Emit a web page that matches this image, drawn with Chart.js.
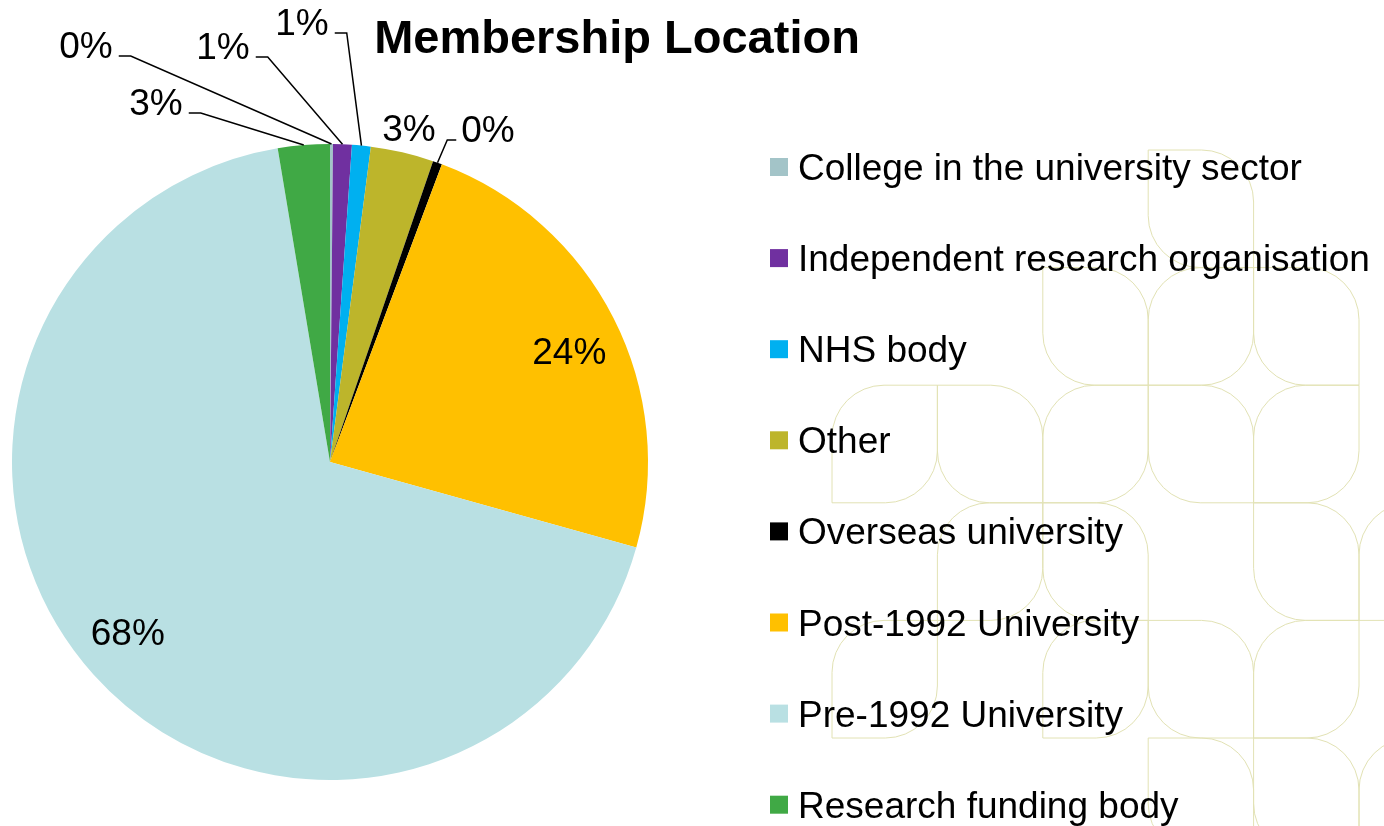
<!DOCTYPE html>
<html>
<head>
<meta charset="utf-8">
<script src="https://cdn.jsdelivr.net/npm/chart.js@4/dist/chart.umd.min.js"></script>
<style>
  html, body { margin: 0; padding: 0; background: #fff; }
  #pie { display: block; }
</style>
</head>
<body>
<canvas id="pie" width="1384" height="826"></canvas>
<script>
// chart data
const categories = [
    'College in the university sector',
    'Independent research organisation',
    'NHS body',
    'Other',
    'Overseas university',
    'Post-1992 University',
    'Pre-1992 University',
    'Research funding body'
];
const shares = [0.15, 0.95, 0.95, 3.2, 0.47, 23.6, 68.0, 2.63];
const colours = ['#a3c4c8', '#7030a0', '#00b0f0', '#bdb52b', '#000000', '#ffc000', '#b9e0e3', '#40a945'];

// where the outside labels sit (null = inside the slice), side = where the leader leaves the text
const labelSpots = [
    { x: 86, y: 45, side: 'right' },
    { x: 223, y: 46, side: 'right' },
    { x: 302, y: 22, side: 'right' },
    { x: 409, y: 128, side: null },
    { x: 488, y: 129, side: 'left' },
    null,
    null,
    { x: 156, y: 102, side: 'right' }
];

const FONT = '"Liberation Sans", Arial, sans-serif';

// faint decorative tiles on the right: [col, row, rounded corners]
const tiles = [
    [3, 0, 'TR BL'], [2, 1, 'TR BL'], [3, 1, 'TL BR'], [4, 1, 'TR BL'],
    [0, 2, 'TL BR'], [1, 2, 'TR BL'], [2, 2, 'TL BR'], [3, 2, 'TR BL'], [4, 2, 'TL BR'],
    [1, 3, 'TL BR'], [2, 3, 'TR BL'], [4, 3, 'TR BL'], [5, 3, 'TL'],
    [0, 4, 'TL BR'], [2, 4, 'TL BR'], [3, 4, 'TR BL'], [4, 4, 'TL BR'],
    [3, 5, 'TR BL'], [4, 5, 'TR BL'], [5, 5, 'TL']
];

function tilePath(ctx, x0, y0, w, h, corners, r) {
    const x1 = x0 + w, y1 = y0 + h;
    const tl = corners.includes('TL') ? r : 0;
    const tr = corners.includes('TR') ? r : 0;
    const br = corners.includes('BR') ? r : 0;
    const bl = corners.includes('BL') ? r : 0;
    ctx.beginPath();
    ctx.moveTo(x0 + tl, y0);
    ctx.lineTo(x1 - tr, y0);
    if (tr) ctx.arcTo(x1, y0, x1, y0 + tr, tr);
    ctx.lineTo(x1, y1 - br);
    if (br) ctx.arcTo(x1, y1, x1 - br, y1, br);
    ctx.lineTo(x0 + bl, y1);
    if (bl) ctx.arcTo(x0, y1, x0, y1 - bl, bl);
    ctx.lineTo(x0, y0 + tl);
    if (tl) ctx.arcTo(x0, y0, x0 + tl, y0, tl);
    ctx.closePath();
    ctx.stroke();
}

const backdrop = {
    id: 'backdrop',
    beforeDraw(chart) {
        const ctx = chart.ctx;
        ctx.save();
        ctx.fillStyle = '#ffffff';
        ctx.fillRect(0, 0, chart.width, chart.height);
        ctx.strokeStyle = '#e2e2b4';
        ctx.lineWidth = 1;
        tiles.forEach(t => {
            tilePath(ctx, 832 + t[0] * 105.4, 150 + t[1] * 117.6, 105.4, 117.6, t[2], 52);
        });
        ctx.restore();
    }
};

const sliceLabels = {
    id: 'sliceLabels',
    afterDatasetsDraw(chart) {
        const ctx = chart.ctx;
        const meta = chart.getDatasetMeta(0);
        const total = shares.reduce((a, b) => a + b, 0);
        ctx.save();
        ctx.font = '37px ' + FONT;
        ctx.fillStyle = '#000';
        ctx.strokeStyle = '#000';
        ctx.lineWidth = 1.5;
        ctx.textAlign = 'center';
        ctx.textBaseline = 'alphabetic';
        meta.data.forEach((arc, i) => {
            const p = arc.getProps(['x', 'y', 'startAngle', 'endAngle', 'outerRadius'], true);
            const mid = (p.startAngle + p.endAngle) / 2;
            const txt = Math.round(shares[i] / total * 100) + '%';
            const spot = labelSpots[i];
            if (!spot) {
                // inside labels sit a bit past the middle angle, like Excel puts them
                const r = p.outerRadius * 0.83;
                const a = mid + 0.034;
                ctx.fillText(txt, p.x + r * Math.cos(a), p.y + r * Math.sin(a) + 13);
                return;
            }
            ctx.fillText(txt, spot.x, spot.y + 13);
            if (!spot.side) return;
            const half = ctx.measureText(txt).width / 2;
            const ax = p.x + p.outerRadius * Math.cos(mid);
            const ay = p.y + p.outerRadius * Math.sin(mid);
            const ly = spot.y + 11;
            let sx, ex;
            if (spot.side === 'right') {
                sx = spot.x + half + 6;
                ex = sx + 12;
            } else {
                sx = spot.x - half - 5;
                ex = sx - 9;
            }
            ctx.beginPath();
            ctx.moveTo(sx, ly);
            ctx.lineTo(ex, ly);
            ctx.lineTo(ax, ay);
            ctx.stroke();
        });
        ctx.restore();
    }
};

const titleAndLegend = {
    id: 'titleAndLegend',
    afterDraw(chart) {
        const ctx = chart.ctx;
        ctx.save();
        ctx.fillStyle = '#000';
        ctx.font = 'bold 47px ' + FONT;
        ctx.textAlign = 'center';
        ctx.textBaseline = 'alphabetic';
        ctx.fillText('Membership Location', 617, 53);

        ctx.font = '37px ' + FONT;
        ctx.textAlign = 'left';
        categories.forEach((name, i) => {
            const cy = 167 + i * 91.1;
            ctx.fillStyle = colours[i];
            ctx.fillRect(770, cy - 9, 18, 18);
            ctx.fillStyle = '#000';
            ctx.fillText(name, 798, cy + 13);
        });
        ctx.restore();
    }
};

const ctx = document.getElementById('pie').getContext('2d');
const pie = new Chart(ctx, {
    type: 'pie',
    data: {
        labels: categories,
        datasets: [{
            data: shares,
            backgroundColor: colours,
            borderWidth: 0
        }]
    },
    options: {
        responsive: false,
        animation: false,
        layout: {
            padding: { left: 12, top: 144, right: 736, bottom: 46 }
        },
        plugins: {
            legend: { display: false },
            tooltip: { enabled: false },
            title: { display: false }
        }
    },
    plugins: [backdrop, sliceLabels, titleAndLegend]
});
</script>
</body>
</html>
